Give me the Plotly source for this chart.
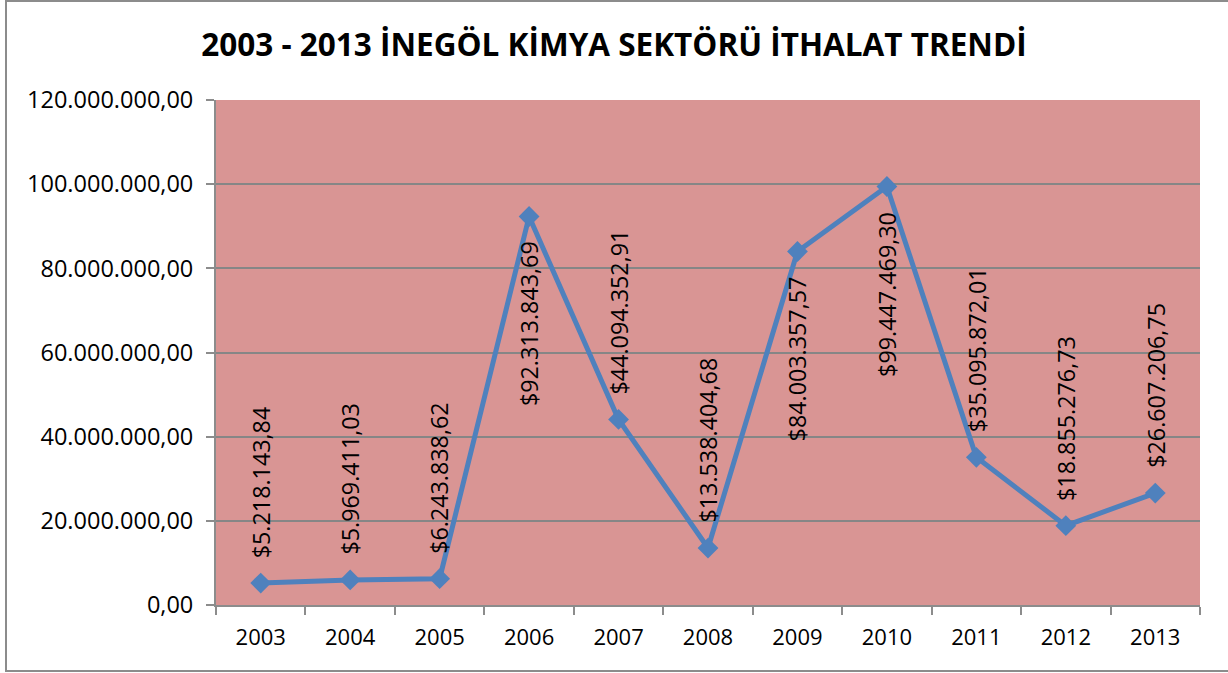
import plotly.graph_objects as go

# Import values of the İnegöl chemical sector, 2003-2013 (USD)
years = ["2003", "2004", "2005", "2006", "2007", "2008",
         "2009", "2010", "2011", "2012", "2013"]
imports = [5218143.84, 5969411.03, 6243838.62, 92313843.69, 44094352.91,
           13538404.68, 84003357.57, 99447469.30, 35095872.01,
           18855276.73, 26607206.75]
# where each value label sits relative to its point
label_side = ["above", "above", "above", "below", "above", "above",
              "below", "below", "above", "above", "above"]
y_ticks = [0, 20e6, 40e6, 60e6, 80e6, 100e6, 120e6]


def tr_money(v):
    s = f"{v:,.2f}"
    return "$" + s.replace(",", "X").replace(".", ",").replace("X", ".")


W, H = 1228, 673
L, R, T, B = 216, 28, 100, 68

fig = go.Figure()
fig.add_trace(go.Scatter(
    x=years, y=imports, mode="lines+markers",
    line=dict(color="#4F81BD", width=5),
    marker=dict(symbol="diamond", size=16, color="#4F81BD"),
    hoverinfo="skip", showlegend=False,
))

for i, (v, side) in enumerate(zip(imports, label_side)):
    fig.add_annotation(
        x=i, y=v, xref="x", yref="y", text=tr_money(v), showarrow=False,
        textangle=-90, font=dict(family="Open Sans", size=23.3, color="#000000"),
        yanchor="bottom" if side == "above" else "top",
        yshift=23 if side == "above" else -23,
    )

# outer chart border (right edge runs past the page)
fig.add_shape(type="rect", xref="paper", yref="paper",
              x0=(6 - L) / (W - L - R), x1=(1240 - L) / (W - L - R),
              y0=-(671 - (H - B)) / (H - T - B),
              y1=1 + (T - 1) / (H - T - B),
              line=dict(color="#8C8C8C", width=2), layer="below")

fig.update_layout(
    width=W, height=H,
    margin=dict(l=L, r=R, t=T, b=B, pad=0),
    paper_bgcolor="#FFFFFF", plot_bgcolor="#D99594",
    separators=",.",
    title=dict(text="<b>2003 - 2013 İNEGÖL KİMYA SEKTÖRÜ İTHALAT TRENDİ</b>",
               x=0.5, xref="container", xanchor="center",
               y=1 - 45 / H, yref="container", yanchor="middle",
               font=dict(family="Open Sans", size=31.5, color="#000000")),
    xaxis=dict(
        type="category", tickson="boundaries", ticks="outside", ticklen=8,
        tickcolor="#8C8C8C", tickwidth=2, showgrid=False,
        showline=True, linecolor="#8C8C8C", linewidth=2,
        tickfont=dict(family="Open Sans", size=22, color="#000000"),
        ticklabelstandoff=12,
        range=[-0.5, 10.5], fixedrange=True,
    ),
    yaxis=dict(
        range=[0, 120e6], tickvals=y_ticks, tickformat=",.2f",
        ticks="outside", ticklen=8, tickcolor="#8C8C8C", tickwidth=2,
        showgrid=True, gridcolor="#868686", gridwidth=2,
        showline=True, linecolor="#8C8C8C", linewidth=2, zeroline=False,
        tickfont=dict(family="Open Sans", size=23.5, color="#000000"),
        ticklabelstandoff=8,
        fixedrange=True,
    ),
)

fig.write_html("out.html", config={"displayModeBar": False})
